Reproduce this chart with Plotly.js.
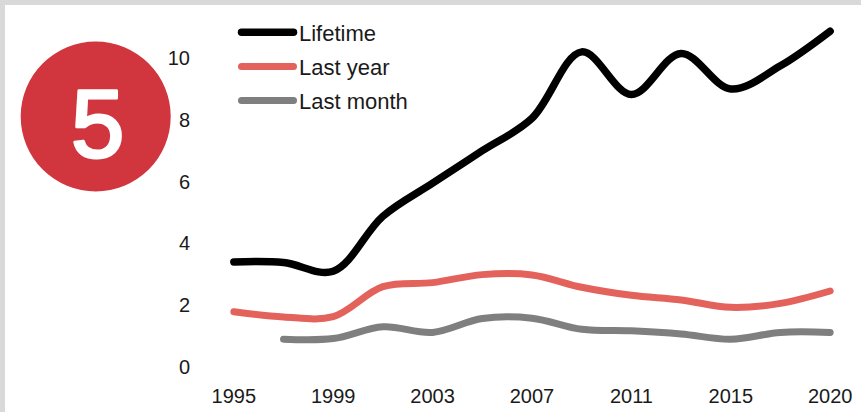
<!DOCTYPE html>
<html>
<head>
<meta charset="utf-8">
<script src="https://cdn.plot.ly/plotly-3.0.1.min.js"></script>
<style>
  html, body { margin: 0; padding: 0; background: #ffffff; }
  #wrap { width: 856px; height: 407px; border-top: 5px solid #d9d9d9; border-left: 5px solid #d9d9d9; }
  #chart { width: 856px; height: 407px; }
  .scatterlayer path.js-line, .legendlines path { stroke-linecap: round; stroke-linejoin: round; }
  .annotation-text { stroke: #ffffff; stroke-width: 3px; stroke-linejoin: round; }
</style>
</head>
<body>
<div id="wrap"><div id="chart"></div></div>
<script>
// ---- data ----
const years = ['1995','1997','1999','2001','2003','2005','2007','2009','2011','2013','2015','2017','2020'];
const lifetime  = [3.40, 3.38, 3.10, 4.88, 5.95, 7.00, 8.05, 10.20, 8.82, 10.15, 9.00, 9.75, 10.87];
const lastYear  = [1.79, 1.62, 1.63, 2.60, 2.73, 2.99, 2.98, 2.58, 2.32, 2.17, 1.93, 2.06, 2.46];
const lastMonth = [null, 0.90, 0.92, 1.30, 1.12, 1.57, 1.58, 1.22, 1.17, 1.07, 0.90, 1.12, 1.12];
const seriesNames = ['Lifetime', 'Last year', 'Last month'];
const badgeText = '5';

// ---- layout geometry (pixels inside the plot div) ----
const W = 856, H = 407;
const M = { l: 204, r: 6, t: 7, b: 45 };
const PW = W - M.l - M.r, PH = H - M.t - M.b;
const px2x = p => (p - M.l) / PW;
const py2y = p => (H - M.b - p) / PH;

const font = 'Liberation Sans, Arial, sans-serif';
const colors = ['#000000', '#e3635c', '#7f7f7f'];
const widths = [7.5, 7, 7];
const series = [lifetime, lastYear, lastMonth];

const traces = series.map((vals, i) => ({
  type: 'scatter',
  mode: 'lines',
  x: years,
  y: vals,
  name: seriesNames[i],
  legendgroup: 'g' + i,
  line: { color: colors[i], width: widths[i], shape: 'spline', smoothing: 1 },
  connectgaps: false,
  hoverinfo: 'skip'
}));

const cx = 90.7, cy = 111.5, r = 75;

const layout = {
  width: W, height: H,
  margin: M,
  paper_bgcolor: '#ffffff',
  plot_bgcolor: '#ffffff',
  font: { family: font, color: '#1a1a1a', size: 20 },
  showlegend: true,
  legend: {
    x: px2x(254), y: py2y(6.5), xanchor: 'left', yanchor: 'top',
    bgcolor: 'rgba(0,0,0,0)', borderwidth: 0,
    font: { family: font, size: 22, color: '#1a1a1a' },
    traceorder: 'grouped', tracegroupgap: 2.5
  },
  xaxis: {
    type: 'category',
    range: [-0.5, 12.5],
    tickmode: 'linear', tick0: 0, dtick: 2,
    showgrid: false, zeroline: false, showline: false,
    ticks: '', ticklabelstandoff: 15,
    tickfont: { family: font, size: 20, color: '#1a1a1a' },
    fixedrange: true
  },
  yaxis: {
    range: [0, 11.49],
    tickmode: 'linear', tick0: 0, dtick: 2,
    showgrid: false, zeroline: false, showline: false,
    ticks: '', ticklabelstandoff: 18,
    tickfont: { family: font, size: 20, color: '#1a1a1a' },
    fixedrange: true
  },
  shapes: [{
    type: 'circle', xref: 'paper', yref: 'paper', layer: 'above',
    x0: px2x(cx - r), x1: px2x(cx + r), y0: py2y(cy + r), y1: py2y(cy - r),
    fillcolor: '#d1363f', line: { width: 0 }
  }],
  annotations: [{
    text: badgeText, xref: 'paper', yref: 'paper',
    x: px2x(92.5), y: py2y(118), xanchor: 'center', yanchor: 'middle',
    showarrow: false,
    font: { family: font, size: 96, color: '#ffffff' }
  }]
};

Plotly.newPlot('chart', traces, layout, { displayModeBar: false, staticPlot: true }).then(gd => {
  // longer legend line samples, as in the reference
  gd.querySelectorAll('.legend .scrollbox').forEach(s => s.removeAttribute('clip-path'));
  gd.querySelectorAll('.legendlines path').forEach(p => p.setAttribute('d', 'M-17.5,0h52'));
});
</script>
</body>
</html>
